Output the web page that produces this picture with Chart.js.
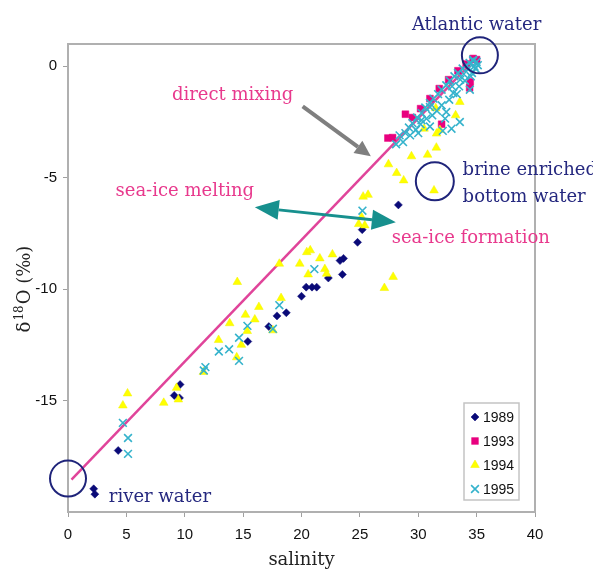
<!DOCTYPE html>
<html>
<head>
<meta charset="utf-8">
<script src="https://cdn.jsdelivr.net/npm/chart.js@4"></script>
<style>
  body { margin: 0; background: #fff; }
  #wrap { width: 593px; height: 575px; }
</style>
</head>
<body>
<div id="wrap"><canvas id="scatterChart"></canvas></div>
<script>
// axis ticks
const xTicks = [0, 5, 10, 15, 20, 25, 30, 35, 40];
const yTicks = [0, -5, -10, -15];

// 1989 (diamonds)
const x1989 = [2.2, 2.3, 4.3, 9.1, 9.6, 9.55, 15.4, 17.2, 17.9, 18.7, 20.0, 20.4, 20.9, 21.3, 22.3, 23.3, 23.6, 23.5, 24.8, 25.2, 28.3];
const y1989 = [-18.96, -19.2, -17.24, -14.77, -14.28, -14.88, -12.35, -11.68, -11.2, -11.06, -10.32, -9.91, -9.91, -9.91, -9.5, -8.72, -8.62, -9.34, -7.9, -7.33, -6.22];

// 1993 (squares)
const x1993 = [27.4, 27.8, 28.9, 32.0, 34.45, 34.7, 35.0, 29.5, 30.2, 31.0, 31.8, 32.6, 33.4, 34.1, 34.4];
const y1993 = [-3.22, -3.2, -2.15, -2.6, -0.7, 0.35, 0.3, -2.3, -1.9, -1.45, -1.0, -0.6, -0.2, 0.1, -0.97];

// 1994 (triangles)
const x1994 = [4.7, 5.1, 8.2, 9.3, 9.45, 11.6, 12.9, 14.45, 13.85, 14.85, 15.2, 15.35, 16.0, 16.35, 14.5, 17.55, 18.25, 18.1, 19.85, 20.45,
  20.75, 21.57, 22.65, 20.57, 22.0, 22.15, 27.1, 27.85, 24.9, 25.42, 25.28, 25.7, 25.15, 27.45, 28.15, 28.75, 29.42, 30.8, 31.55, 31.35,
  30.5, 31.85, 31.5, 33.56, 33.2, 31.57];
const y1994 = [-15.22, -14.68, -15.1, -14.43, -14.95, -13.72, -12.28, -13.06, -11.53, -12.5, -11.15, -11.88, -11.36, -10.8, -9.68, -11.85, -10.4, -8.86, -8.86, -8.34,
  -8.26, -8.62, -8.44, -9.34, -9.1, -9.31, -9.95, -9.45, -7.08, -7.14, -5.85, -5.77, -6.77, -4.4, -4.79, -5.12, -4.04, -3.97, -3.65, -5.57,
  -2.8, -2.86, -1.88, -1.6, -2.2, -3.02];

// 1995 (crosses)
const x1995 = [4.7, 5.14, 5.14, 11.63, 11.77, 12.92, 13.8, 14.65, 14.65, 15.37, 17.55, 18.1, 21.1, 25.22,
  28.7, 28.4, 28.9, 29.2, 29.5, 29.9, 30.3, 30.6, 31.0, 31.3, 31.7, 32.0, 32.4, 32.7, 33.1, 33.4, 33.8, 34.1, 34.4, 34.7,
  35.0, 35.1, 34.9, 34.6, 29.3, 29.8, 30.2, 30.28, 30.7, 31.0, 31.2, 31.6, 32.0, 32.4, 32.3, 32.65, 32.85, 33.0, 33.56, 33.5,
  34.0, 34.42, 34.5, 33.3, 28.1, 30.0, 32.1, 31.0, 33.9, 34.3, 34.8, 33.6, 32.9, 34.7];
const y1995 = [-16.0, -16.68, -17.39, -13.65, -13.5, -12.8, -12.7, -13.22, -12.18, -11.65, -11.78, -10.72, -9.1, -6.48,
  -3.4, -3.1, -3.0, -2.75, -2.55, -2.3, -2.1, -1.85, -1.65, -1.45, -1.25, -1.05, -0.85, -0.65, -0.45, -0.3, -0.1, 0.05, 0.15, 0.25,
  0.2, 0.05, -0.1, -0.3, -3.1, -2.85, -2.6, -2.42, -2.35, -1.83, -2.2, -2.0, -1.75, -2.05, -2.35, -1.5, -2.8, -1.2, -2.5, -0.9,
  -0.65, -1.05, -0.45, -1.25, -3.5, -3.0, -2.9, -2.7, -0.35, -0.1, 0.0, -0.6, -0.9, 0.3];

// mixing line river water -> Atlantic water
const mixX = [0.3, 35.0];
const mixY = [-18.55, 0.4];

const toPoints = (xs, ys) => xs.map((x, i) => ({ x: x, y: ys[i] }));

const pinkText = '#e8398d';
const navy = '#25287f';

// annotations, positions in data units
const circles = [
  { x: 35.28, y: 0.49, r: 18 },
  { x: 31.42, y: -5.16, r: 19 },
  { x: 0, y: -18.5, r: 18 }
];
const labels = [
  { text: 'Atlantic water', x: 35.0, y: 1.84, align: 'center', color: navy },
  { text: 'direct mixing', x: 14.1, y: -1.3, align: 'center', color: pinkText },
  { text: 'sea-ice melting', x: 10.0, y: -5.6, align: 'center', color: pinkText },
  { text: 'sea-ice formation', x: 34.5, y: -7.74, align: 'center', color: pinkText },
  { text: 'brine enriched', x: 33.8, y: -4.67, align: 'left', color: navy },
  { text: 'bottom water', x: 33.8, y: -5.87, align: 'left', color: navy },
  { text: 'river water', x: 3.5, y: -19.34, align: 'left', color: navy }
];

function arrowHead(ctx, x1, y1, x2, y2, len, wid) {
  const a = Math.atan2(y2 - y1, x2 - x1);
  const bx = x2 - len * Math.cos(a), by = y2 - len * Math.sin(a);
  ctx.beginPath();
  ctx.moveTo(x2, y2);
  ctx.lineTo(bx + wid / 2 * Math.sin(a), by - wid / 2 * Math.cos(a));
  ctx.lineTo(bx - wid / 2 * Math.sin(a), by + wid / 2 * Math.cos(a));
  ctx.closePath();
  ctx.fill();
  return [bx, by];
}

const overlay = {
  id: 'overlay',
  beforeDatasetsDraw(chart) {
    // top and right sides of the plot frame
    const ctx = chart.ctx, a = chart.chartArea;
    ctx.save();
    ctx.strokeStyle = '#b0b0b0';
    ctx.lineWidth = 2;
    ctx.beginPath();
    ctx.moveTo(a.left, a.top);
    ctx.lineTo(a.right, a.top);
    ctx.lineTo(a.right, a.bottom);
    ctx.stroke();
    ctx.restore();
  },
  afterDraw(chart) {
    const ctx = chart.ctx, a = chart.chartArea;
    const xs = chart.scales.x, ys = chart.scales.y;
    const px = v => xs.getPixelForValue(v), py = v => ys.getPixelForValue(v);
    ctx.save();

    // circles
    ctx.strokeStyle = '#1f247a';
    ctx.lineWidth = 2;
    circles.forEach(c => {
      ctx.beginPath();
      ctx.arc(px(c.x), py(c.y), c.r, 0, Math.PI * 2);
      ctx.stroke();
    });

    // gray arrow (direct mixing)
    let x1 = px(20.1), y1 = py(-1.8), x2 = px(25.94), y2 = py(-4.04);
    ctx.fillStyle = '#7f7f7f';
    ctx.strokeStyle = '#7f7f7f';
    let b = arrowHead(ctx, x1, y1, x2, y2, 16, 15);
    ctx.lineWidth = 4;
    ctx.beginPath();
    ctx.moveTo(x1, y1);
    ctx.lineTo(b[0], b[1]);
    ctx.stroke();

    // teal double arrow
    x1 = px(16.0); y1 = py(-6.33); x2 = px(28.08); y2 = py(-7.0);
    ctx.fillStyle = '#17908e';
    ctx.strokeStyle = '#17908e';
    const b1 = arrowHead(ctx, x1, y1, x2, y2, 24, 20);
    const b2 = arrowHead(ctx, x2, y2, x1, y1, 24, 20);
    ctx.lineWidth = 3;
    ctx.beginPath();
    ctx.moveTo(b2[0], b2[1]);
    ctx.lineTo(b1[0], b1[1]);
    ctx.stroke();

    // labels
    ctx.font = '18px "DejaVu Serif"';
    ctx.textBaseline = 'middle';
    labels.forEach(l => {
      ctx.fillStyle = l.color;
      ctx.textAlign = l.align;
      ctx.fillText(l.text, px(l.x), py(l.y));
    });

    // y axis title with superscript
    ctx.translate(24, (a.top + a.bottom) / 2 + 12);
    ctx.rotate(-Math.PI / 2);
    ctx.fillStyle = '#222';
    ctx.textAlign = 'left';
    ctx.textBaseline = 'alphabetic';
    const big = '18px "DejaVu Serif"', small = '12px "DejaVu Serif"';
    ctx.font = big;
    const w1 = ctx.measureText('δ').width, w3 = ctx.measureText('O (‰)').width;
    ctx.font = small;
    const w2 = ctx.measureText('18').width;
    const sx = -(w1 + w2 + w3) / 2;
    ctx.font = big;
    ctx.fillText('δ', sx, 6);
    ctx.font = small;
    ctx.fillText('18', sx + w1 + 1, -1);
    ctx.font = big;
    ctx.fillText('O (‰)', sx + w1 + w2 + 2, 6);
    ctx.restore();

    // legend
    ctx.save();
    const lx = a.right - 71, ly = a.bottom - 109, lw = 55, lh = 97;
    ctx.fillStyle = '#fff';
    ctx.fillRect(lx, ly, lw, lh);
    ctx.strokeStyle = '#c4c4c4';
    ctx.lineWidth = 1.5;
    ctx.strokeRect(lx, ly, lw, lh);
    ctx.font = '14px "Liberation Sans"';
    ctx.textBaseline = 'middle';
    ctx.textAlign = 'left';
    chart.data.datasets.forEach((ds, i) => {
      if (ds.type === 'line') return;
      const yy = ly + 14 + i * 24;
      ctx.fillStyle = ds.pointBackgroundColor;
      ctx.strokeStyle = ds.pointBorderColor;
      ctx.lineWidth = ds.borderWidth;
      Chart.helpers.drawPoint(ctx, {
        pointStyle: ds.pointStyle,
        radius: ds.pointRadius,
        borderWidth: ds.borderWidth,
        rotation: 0
      }, lx + 11, yy);
      ctx.fillStyle = '#111';
      ctx.fillText(ds.label, lx + 19, yy + 1);
    });
    ctx.restore();
  }
};

const datasets = [
  { label: '1989', data: toPoints(x1989, y1989), pointStyle: 'rectRot', pointRadius: 4,
    pointBackgroundColor: '#0a0a78', pointBorderColor: '#0a0a78', borderWidth: 0.5, order: 4 },
  { label: '1993', data: toPoints(x1993, y1993), pointStyle: 'rect', pointRadius: 4.8,
    pointBackgroundColor: '#e8007f', pointBorderColor: '#e8007f', borderWidth: 0.5, order: 3 },
  { label: '1994', data: toPoints(x1994, y1994), pointStyle: 'triangle', pointRadius: 5,
    pointBackgroundColor: '#ffff00', pointBorderColor: '#f2f200', borderWidth: 0.5, order: 2 },
  { label: '1995', data: toPoints(x1995, y1995), pointStyle: 'crossRot', pointRadius: 5.5,
    pointBackgroundColor: '#35b3cc', pointBorderColor: '#35b3cc', borderWidth: 1.6, order: 1 },
  { label: 'mixing', type: 'line', data: toPoints(mixX, mixY), borderColor: '#e0449a', borderWidth: 2.5,
    pointRadius: 0, showLine: true, fill: false, order: 5 }
];

const ctx = document.getElementById('scatterChart').getContext('2d');

const myChart = new Chart(ctx, {
  type: 'scatter',
  data: { datasets: datasets },
  options: {
    responsive: true,
    maintainAspectRatio: false,
    animation: false,
    layout: { padding: { top: 44, right: 58, left: 0, bottom: 0 } },
    plugins: { legend: { display: false }, tooltip: { enabled: false } },
    scales: {
      x: {
        type: 'linear', min: 0, max: 40,
        afterBuildTicks: s => { s.ticks = xTicks.map(v => ({ value: v })); },
        afterFit: s => { s.height = 63; },
        grid: { drawOnChartArea: false, tickLength: 5, color: '#a0a0a0' },
        border: { color: '#b0b0b0', width: 2 },
        ticks: { font: { family: 'Liberation Sans', size: 15 }, color: '#111', padding: 9, maxRotation: 0 },
        title: { display: true, text: 'salinity', font: { family: 'DejaVu Serif', size: 18 }, color: '#222', padding: { top: 0, bottom: 4 } }
      },
      y: {
        type: 'linear', min: -20, max: 1,
        afterBuildTicks: s => { s.ticks = yTicks.map(v => ({ value: v })); },
        afterFit: s => { s.width = 68; },
        grid: { drawOnChartArea: false, tickLength: 5, color: '#a0a0a0' },
        border: { color: '#b0b0b0', width: 2 },
        ticks: { font: { family: 'Liberation Sans', size: 15 }, color: '#111', padding: 6 }
      }
    }
  },
  plugins: [overlay]
});
</script>
</body>
</html>
